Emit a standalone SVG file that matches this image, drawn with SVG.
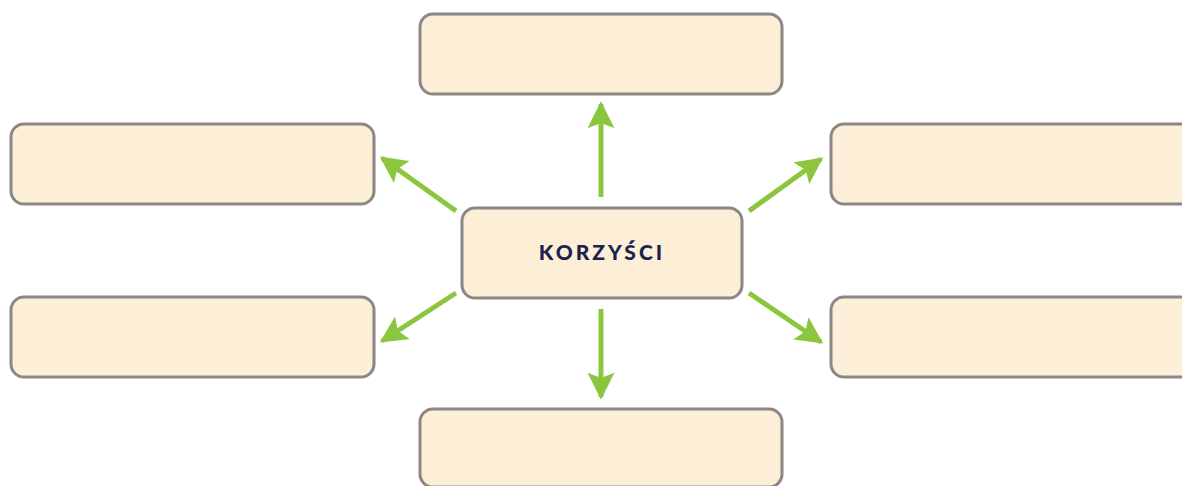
<svg xmlns="http://www.w3.org/2000/svg" width="1182" height="486" viewBox="0 0 1182 486">
<style>
.box{fill:#fdeed8;stroke:#8b8784;stroke-width:3}
.arr{stroke:#8cc63f;stroke-width:5;fill:none;marker-end:url(#ah)}
.lbl{font-family:"Lato","Liberation Sans",sans-serif;font-weight:900;font-size:21px;fill:#1a2350;letter-spacing:3px}
</style>
<defs>
<marker id="ah" viewBox="0 0 10 10" refX="9" refY="5" markerWidth="5.4" markerHeight="5.4" orient="auto" markerUnits="strokeWidth">
<path d="M0,0 L10,5 L0,10 L2,5 Z" fill="#8cc63f"/>
</marker>
</defs>
<rect width="1182" height="486" fill="#ffffff"/>
<g id="connectors">
<line class="arr" x1="601" y1="197" x2="601" y2="104"/>
<line class="arr" x1="601" y1="309" x2="601" y2="397"/>
<line class="arr" x1="456" y1="211" x2="382" y2="158"/>
<line class="arr" x1="749" y1="211" x2="821" y2="159"/>
<line class="arr" x1="456" y1="293" x2="382" y2="341"/>
<line class="arr" x1="749" y1="293" x2="821" y2="342"/>
</g>
<g id="center"><rect class="box" x="462" y="208" width="280" height="90" rx="13"/><text class="lbl" x="602" y="260" text-anchor="middle">KORZYŚCI</text></g>
<g id="top"><rect class="box" x="420" y="14" width="362" height="80" rx="13"/></g>
<g id="bottom"><rect class="box" x="420" y="409" width="362" height="78" rx="13"/></g>
<g id="left-top"><rect class="box" x="11" y="124" width="363" height="80" rx="13"/></g>
<g id="left-bottom"><rect class="box" x="11" y="297" width="363" height="80" rx="13"/></g>
<g id="right-top"><rect class="box" x="831" y="124" width="370" height="80" rx="13"/></g>
<g id="right-bottom"><rect class="box" x="831" y="297" width="370" height="80" rx="13"/></g>
</svg>
